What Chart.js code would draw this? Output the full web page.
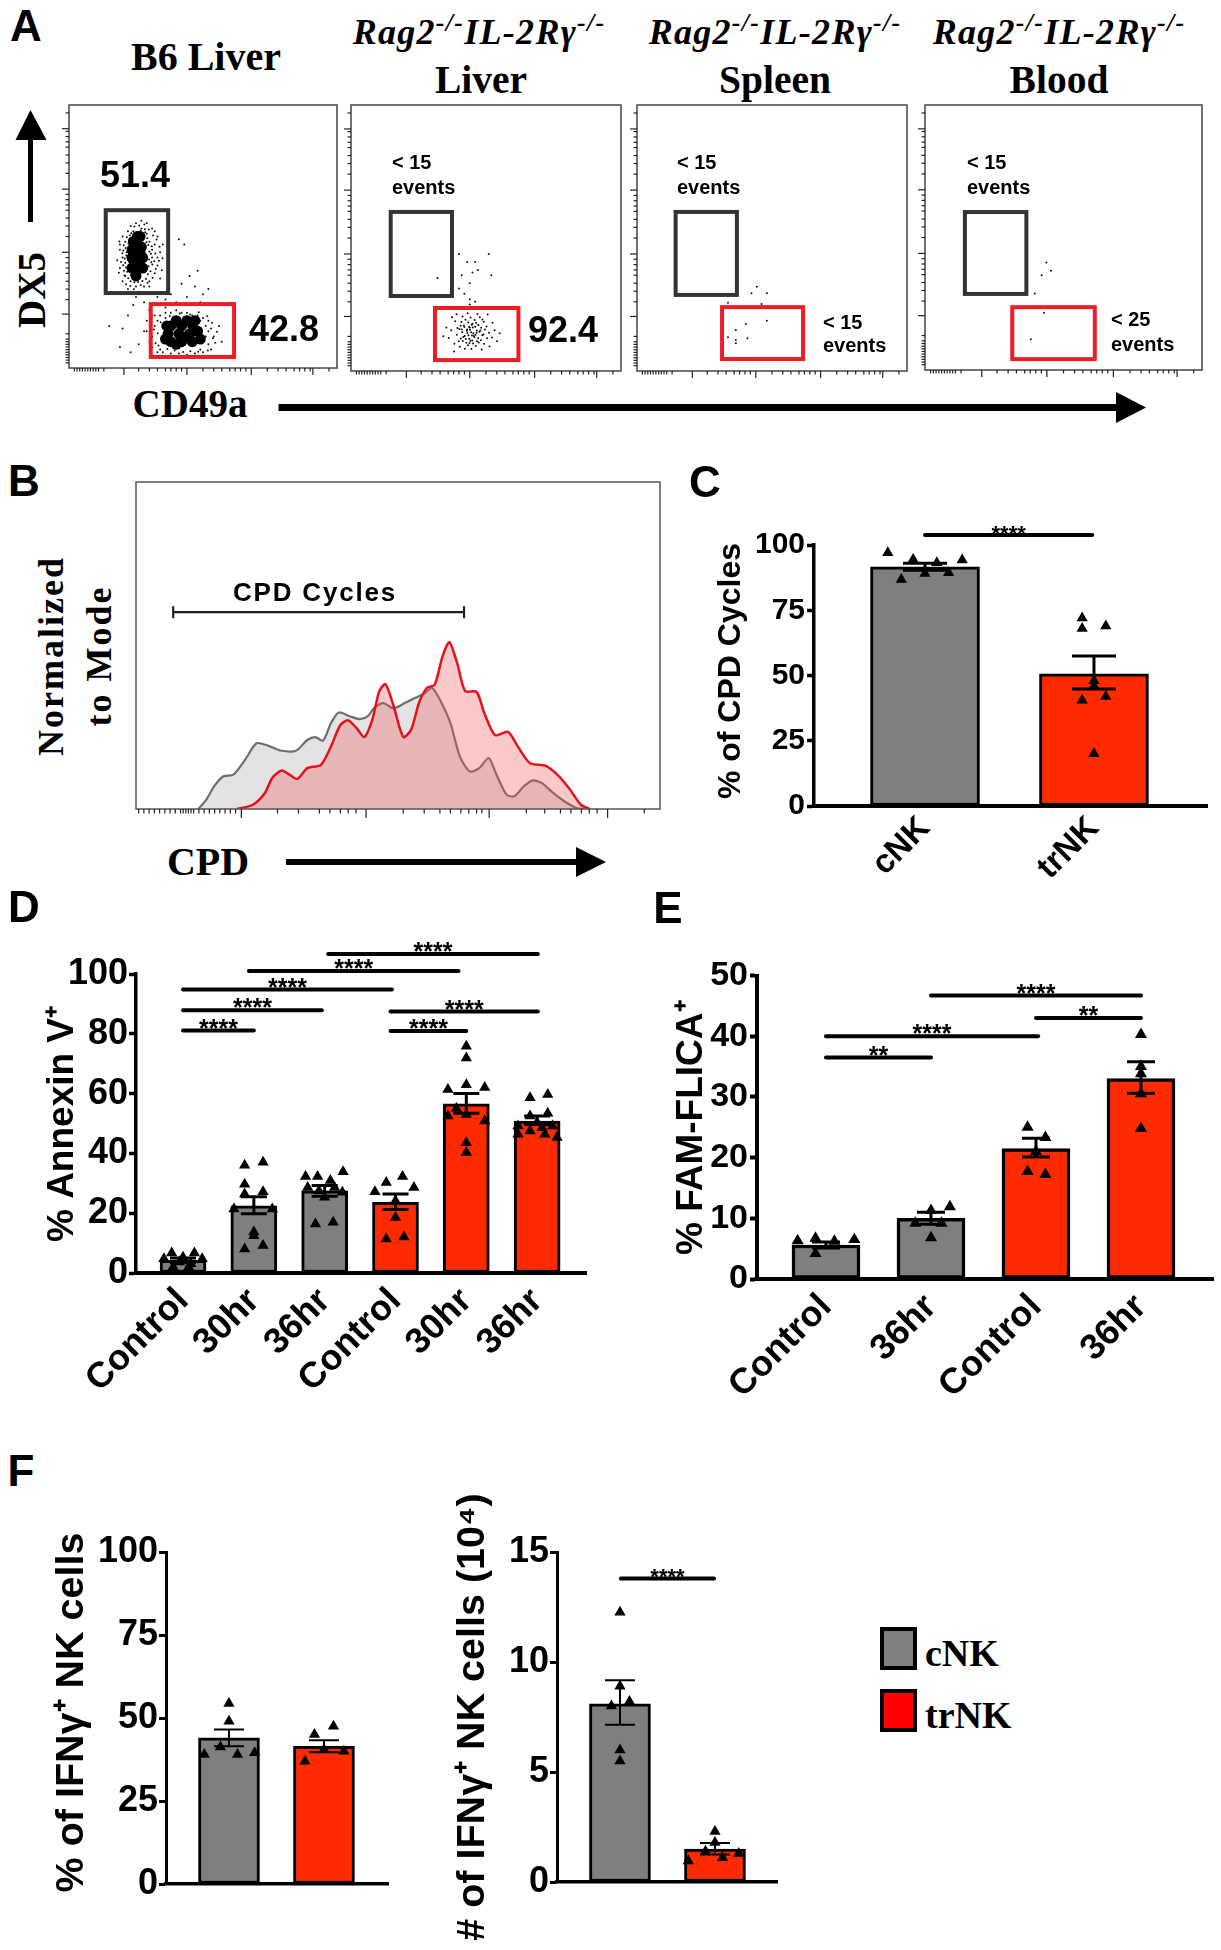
<!DOCTYPE html>
<html><head><meta charset="utf-8">
<script src="https://cdn.jsdelivr.net/npm/chart.js@4"></script>
<style>
html,body{margin:0;padding:0;background:#fff;width:1221px;height:1950px;overflow:hidden}
canvas{position:absolute}
.t{position:absolute;white-space:nowrap;color:#000;line-height:1;transform:translate(-50%,-50%)}
.s{font-family:"Liberation Serif",serif;font-weight:bold}
.a{font-family:"Liberation Sans",sans-serif;font-weight:bold}
sup{font-size:72%;line-height:0;vertical-align:baseline;position:relative;top:-.5em}
svg{position:absolute;left:0;top:0}
</style></head><body>
<svg width="1221" height="1950">
<polygon points="28,222 33,222 33,140 46.500,140 30.500,110 15.500,140 28,140"/>
<polygon points="278.500,404 1116,404 1116,392 1146,407.500 1116,423 1116,411 278.500,411"/>
<polygon points="286,859 576,859 576,847 606,862 576,877 576,865 286,865"/>
</svg>
<script>
const GREY='#7f7f7f', RED='#ff2b00';

// Panel A: flow cytometry dots, x and y in percent of each plot
const b6Core=[[25,35],[24,38],[26,38],[24,41],[26.5,41],[24,44],[26.5,44],[25,47],[25.5,50],[27,46],[23.5,42],[23.5,38],[27.5,42],[27.5,38],[23.5,45],[24,48],[26.5,50],
[38,10],[42,10],[46,10],[37,13],[41,13],[45,13],[48,14],[38,16],[42,16],[46,16.5],[40,9],[44,12],[36,11],[49,11],[36.5,16],[40,18],[44,18],[47,18]];
const b6Dots=[[19,38],[20,42],[19,45],[21,35],[21,48],[20,50],[22,52],[23,54],[25,55],[27,53],[29,55],[31,53],[33,50],[32,47],[34,44],[31,42],[33,39],[32,36],[34,34],[30,33],[28,31],[25,31],[23,33],[20,33],[18,41],[19,47],[22,30],[26,29],[30,31],[31,45],[30,48],[29,51],[24,52],[21,40],[21.5,44],[20.5,37],[33,42],[35,47],[32,52],[27,56],
[18.6,36.2],[19.4,40.3],[19.9,43.6],[18.8,48.1],[20.4,46.7],[20.7,35.2],[21.3,31.8],[22.9,31.2],[24.2,29.9],[26.8,31.6],[29.3,32.4],[31.2,34.3],[32.4,37.6],[31.1,39.4],[33.6,40.8],[32.2,43.5],[30.9,46.3],[32.7,48.9],[31.4,50.4],[29.8,52.7],[28.1,54.6],[26.2,54.2],[24.4,53.8],[22.7,50.4],[21.6,49.7],[34.6,37.2],[34.9,41.7],[33.8,46.1],[30.4,36.8],[30.7,40.2],
[20.2,39.1],[20.8,41.6],[21.2,38.2],[21.4,42.8],[21.1,45.6],[20.3,44.7],[21.7,36.6],[22.1,34.1],[22.3,40.7],[22.2,47.3],[22.6,49.1],[23.2,51.2],[24.8,51.4],[26.7,52.2],[28.4,51.6],[29.2,49.3],[29.6,46.8],[30,44.2],[29.9,41.3],[29.7,38.7],[29.4,35.6],[28.7,33.8],[27.4,33.1],[25.8,32.7],[24.4,32.6],[23.1,35.4],[30.6,43.4],[31.8,40.6],[28.9,47.8],[28.3,52.8],
[41,49],[43,47],[45,35],[48,37],[42,32],[47,31],[50,28],[38,28],[36,26],[40,25],[44,27],[46,24],[25,27],[28,25],[24,24],[33,27],[30,22],[36,23],[43,24],[49,25],[52,30],[22,20],[20,15],[15,16],[19,8],[23,6],[26,9],[28,14],[29,18],[31,20],
[31,8],[31,12],[32,16],[32,20],[33,6],[34,20],[36,21],[38,21],[40,22],[42,21],[44,21],[46,20],[48,20],[50,19],[52,18],[53,15],[54,12],[52,9],[53,7],[50,6],[47,5.5],[44,5],[41,5.5],[38,5.5],[35,6],[30,10],[29,14],[51,12],[52,14],[51,16],[49,7],[33,18],[36,19],[39,19.5],[43,19.5],[47,19],[49,18],[34,7],[57,10],[56,16],
[32.3,9.4],[33.1,13.2],[31.7,14.6],[34.2,17.4],[37.6,19.8],[41.3,20.7],[45.2,20.3],[48.4,21.2],[51.6,19.7],[53.4,17.2],[54.6,9.6],[53.7,11.3],[55.2,13.8],[51.8,6.7],[48.2,6.2],[45.3,6.4],[42.6,6.1],[39.4,6.7],[36.7,7.2],[33.4,8.6]];
const liverDots=[[36.2,12.4],[37.1,15.3],[38.3,10.2],[38.6,18.7],[39.2,13.6],[39.4,16.2],[39.1,21.3],[40.3,9.1],[40.7,12.2],[40.1,15.8],[40.9,18.4],[41.4,11.3],[41.2,14.6],[41.8,17.1],[41.3,20.5],[42.2,8.4],[42.7,10.6],[42.1,13.2],[42.9,15.1],[42.4,19.3],[42.6,23.4],[43.3,9.7],[43.8,12.1],[43.1,14.3],[43.7,16.6],[43.4,18.2],[43.2,21.7],[44.6,8.3],[44.2,11.4],[44.8,13.3],[44.1,15.5],[44.7,17.4],[44.3,20.1],[45.2,10.3],[45.7,12.8],[45.3,14.2],[45.1,16.4],[45.8,19.2],[45.4,23.3],[46.2,9.4],[46.7,11.2],[46.1,13.6],[46.6,15.2],[46.3,18.1],[46.8,21.4],[47.3,10.7],[47.1,12.3],[47.6,14.8],[47.2,17.3],[47.7,20.2],[48.4,8.1],[48.1,11.6],[48.6,13.4],[48.2,16.3],[48.7,19.4],[49.3,10.2],[49.1,13.7],[49.6,15.6],[49.2,18.5],[50.4,12.3],[50.2,16.7],[50.6,21.2],[51.3,9.2],[51.1,14.4],[52.2,12.6],[52.4,18.1],[53.2,15.3],[54.1,11.2],[35.3,16.4],[34.2,13.1],[37.4,20.2],[38.2,7.3],[55.1,14.2],
[42.5,12],[43.5,13.4],[44.5,14.6],[45.5,13.2],[46.5,14.4],[43,15.6],[44,16.4],[45,17.8],[46,16.6],[42,16.5],[41,15.6],[41.6,12.8],[44.9,11.5],[43.9,10.4],[47.9,15.2],[40.6,17],[39.9,11.2],
[40,44],[43,41],[46,41],[51,44],[45,37],[47,38],[52,36],[41,36],[44,33],[40,31],[32,35],[42,29],[44,27],[46,26],[44,25],[47,24],[50,24]];
const spleenDots=[[33.7,25.7],[46.1,25.2],[42.4,29.2],[48.1,29.2],[44.4,31.7],[48.1,18.9],[40.3,17.7],[36.6,15.4],[36.6,11.7],[40.9,12.3],[33.7,12.7],[36.6,10.4]];
const bloodDots=[[43.8,40.6],[45.5,37.5],[42.1,35.8],[39.6,28.9],[43,21.6],[38.2,11.6]];
const flowMajorTicks=[20.5,44,68,91];
const flowMinorTicks=[2,3,4,5,6,7,8,9,10,11,13,26,30,33,36,38,40,42,50,54,57,60,62,64,66,74,78,81,84,86,88,90,97];

// Panel B: CPD histograms, x and y in percent of the plot
const cpdGrey=[[11.9,0],[13.4,2.8],[14.9,6.9],[16.7,10],[18.6,10.5],[20.8,15],[23,20.1],[25.3,19.3],[27.5,17.9],[30.5,17.8],[32.7,21.1],[34.2,22],[35.7,20.9],[37.2,26.2],[38.7,29.5],[40.9,28.3],[42.7,27.5],[44.2,28.3],[45.4,30.8],[47.2,32.4],[49.1,30.8],[51.3,32.4],[53.6,34.2],[55.1,35.4],[56.5,37],[58,33.4],[60,26.3],[61.8,16.1],[63.7,11.5],[65.5,12.5],[67.3,15.6],[68.8,10.5],[70.7,4.4],[72.2,3.9],[74,6.9],[75.6,8.7],[77.4,8],[79.6,4.9],[81.8,2.3],[84.1,.3],[85.6,0]];
const cpdRed=[[19.3,0],[22.3,1.3],[24.6,4.9],[26,9.5],[27.8,11.8],[29.3,10.5],[30.8,9.2],[32.7,12.5],[35.3,13.5],[37.2,19.1],[39,25.7],[40.5,27.1],[42.1,24.7],[43.6,22],[45.1,27.3],[46.4,35.9],[47.6,38.2],[49.1,31.8],[51,22],[52.5,24.2],[54,32.4],[55.5,37],[57,38],[58.5,46.7],[59.8,51],[61.3,44.5],[62.8,36.1],[65,35.8],[66.5,29.2],[68.5,22.6],[71,23.6],[72.9,19],[75.2,14],[78.2,13.2],[80.4,10.5],[82.6,6.4],[84.9,1.3],[86.6,0]];
const cpdMajorTicks=[20.1,43.9,67.4,90];
const cpdMinorTicks=[0.5,1.5,2.5,3.5,4.5,5.5,6.5,7.5,8.5,9,9.5,10,10.5,11,12,13,14,15,16,17,18,19,27,31,35,37,39,40.5,42,51,55,58,60,62,63.5,65,66,74.5,78,81,83,85,86.5,88,97];

// Panel C
const cCategories=['cNK','trNK'];
const cMeans=[91.6,50.6];
const cUpper=[93,57.5];
const cLower=[90.3,44.8];
const cPoints=[{x:-.22,y:97},{x:-.07,y:94.4},{x:.07,y:93.2},{x:.22,y:94.3},{x:-.14,y:86.8},{x:0,y:89.1},{x:.14,y:89.4},
{x:.93,y:72},{x:1.07,y:69},{x:.93,y:68},{x:1,y:48},{x:1,y:46},{x:.93,y:40.5},{x:1.07,y:42},{x:1,y:20}];

// Panel D
const dCategories=['Control','30hr','36hr','Control','30hr','36hr'];
const dMeans=[4.2,22.5,27.5,23.6,56.6,50.8];
const dUpper=[5,25.5,29.3,26.4,60,52.5];
const dLower=[3.5,19.8,25.7,21.2,53.4,49.7];
const dColors=[GREY,GREY,GREY,RED,RED,RED];
const dPoints=[{x:-.27,y:4.8},{x:-.16,y:6.7},{x:0,y:5.3},{x:.16,y:6.7},{x:.27,y:4.8},{x:-.14,y:2},{x:.08,y:2},{x:-.05,y:3.7},{x:.11,y:3.1},
{x:.87,y:36},{x:1.13,y:37},{x:.87,y:29.7},{x:.87,y:26.4},{x:1.13,y:27.2},{x:.72,y:21.4},{x:1.26,y:21.4},{x:1,y:13.7},{x:1,y:12.5},{x:.87,y:8},{x:1.13,y:9.2},
{x:1.73,y:32.3},{x:1.9,y:32.3},{x:2.26,y:33.9},{x:2.08,y:30.9},{x:1.76,y:28.6},{x:1.92,y:27.5},{x:2.14,y:28.6},{x:2.25,y:27},{x:1.87,y:16.4},{x:2.12,y:17},{x:2,y:25.3},
{x:3.1,y:32.3},{x:2.87,y:30.3},{x:3.26,y:28.6},{x:2.71,y:27.2},{x:3,y:24.2},{x:3,y:18.6},{x:2.87,y:11.4},{x:3.12,y:12},
{x:4,y:75.8},{x:4,y:71.9},{x:4,y:63},{x:3.74,y:61.4},{x:4.26,y:62},{x:3.74,y:52.5},{x:4,y:53},{x:4.26,y:50.8},{x:4,y:43.6},{x:4,y:40.3},{x:3.86,y:55},
{x:4.9,y:58.6},{x:5.15,y:59.7},{x:4.9,y:52.5},{x:5.15,y:53.4},{x:4.73,y:49.2},{x:4.9,y:47.5},{x:5.07,y:48.6},{x:5.22,y:49.2},{x:5.28,y:45.3},{x:4.73,y:46.4},{x:5,y:50.3},{x:5.11,y:46.4}];
const dBrackets=[[0,1,81.1,'****'],[0,1.96,87.9,'****'],[0,2.95,94.8,'****'],[.93,3.89,101,'****'],[2.05,5.01,106.7,'****'],[2.93,4,80.9,'****'],[2.93,5.01,87.5,'****']];

// Panel E
const eCategories=['Control','36hr','Control','36hr'];
const eMeans=[5.6,10,21.5,33];
const eUpper=[6.1,11,23.2,35.8];
const eLower=[5.1,9,20.1,30.6];
const eColors=[GREY,GREY,RED,RED];
const ePoints=[{x:-.27,y:6.3},{x:-.1,y:6.7},{x:.08,y:6.2},{x:.27,y:6.5},{x:-.1,y:4.2},
{x:1,y:11.3},{x:1.18,y:11.9},{x:.85,y:9.2},{x:1,y:6.8},{x:1.1,y:9.2},
{x:1.92,y:25},{x:2.09,y:23.3},{x:1.92,y:17.7},{x:2.09,y:17.2},{x:2,y:21},
{x:3,y:40.3},{x:3,y:35},{x:3,y:33.8},{x:3,y:30.5},{x:3,y:24.8}];
const eBrackets=[[0,1,36.5,'**'],[0,2.02,40,'****'],[1,3,46.7,'****'],[2,3,43,'**']];

// Panel F
const fPctCategories=['cNK','trNK'];
const fPctMeans=[44,41.5];
const fPctUpper=[46.5,43.3];
const fPctLower=[41.5,39.7];
const fPctPoints=[{x:0,y:54.4},{x:0,y:49},{x:-.09,y:41.3},{x:.09,y:39},{x:-.26,y:39},{x:.27,y:39.5},
{x:.9,y:45},{x:1.1,y:47.5},{x:.8,y:37},{x:1,y:40.5},{x:1.21,y:40}];
const fNumCategories=['cNK','trNK'];
const fNumMeans=[8.1,1.5];
const fNumUpper=[9.17,1.77];
const fNumLower=[7.15,1.25];
const fNumPoints=[{x:0,y:12.26},{x:0,y:8.9},{x:.1,y:8.2},{x:-.09,y:8},{x:0,y:6},{x:0,y:5.5},
{x:1,y:2.3},{x:1,y:1.8},{x:.9,y:1.4},{x:1.08,y:1.1},{x:.72,y:.95},{x:1.25,y:1.3}];
const fNumBrackets=[[.01,.99,13.8,'****']];
const cBrackets=[[0,.99,103.8,'****']];

function toXY(a){return a.map(p=>({x:p[0],y:p[1]}));}
function put(html,x,y,cls,size,extra){
  const d=document.createElement('div');d.className='t '+cls;d.innerHTML=html;
  d.style.left=x+'px';d.style.top=y+'px';d.style.fontSize=size+'px';
  if(extra)d.style.cssText+=extra;document.body.appendChild(d);return d;
}
function addCanvas(L,T,W,H){
  const c=document.createElement('canvas');c.width=W;c.height=H;
  c.style.left=L+'px';c.style.top=T+'px';c.style.width=W+'px';c.style.height=H+'px';
  document.body.appendChild(c);return c;
}
function drawTicks(ctx,chart,major,minor,xOn,yOn,majLen,minLen){
  const {left,bottom}=chart.chartArea,X=chart.scales.x,Y=chart.scales.y;
  ctx.strokeStyle='#222';ctx.lineWidth=1.2;
  const line=(a,b,c,d)=>{ctx.beginPath();ctx.moveTo(a,b);ctx.lineTo(c,d);ctx.stroke();};
  const run=(vals,len)=>vals.forEach(v=>{
    if(xOn){const p=X.getPixelForValue(v);line(p,bottom,p,bottom+len);}
    if(yOn){const p=Y.getPixelForValue(v);line(left,p,left-len,p);}
  });
  run(major,majLen);run(minor,minLen);
}

// Panel A plots
function flowPlot(o){
  const pad=12;
  const c=addCanvas(o.x0-pad,o.y0-2,o.x1-o.x0+pad+2,o.y1-o.y0+pad+2);
  const ds=[{data:toXY(o.dots),pointRadius:1,pointBackgroundColor:'#111',pointBorderWidth:0}];
  if(o.core)ds.push({data:toXY(o.core),pointRadius:5.5,pointBackgroundColor:'#000',pointBorderWidth:0});
  new Chart(c,{type:'scatter',data:{datasets:ds},
   options:{responsive:false,animation:false,
    layout:{autoPadding:false,padding:{left:pad,top:2,right:2,bottom:pad}},
    plugins:{legend:{display:false},tooltip:{enabled:false}},
    scales:{x:{display:false,min:0,max:100},y:{display:false,min:0,max:100}}},
   plugins:[{id:'flowMarks',afterDraw(ch){
     const g=ch.ctx,{left,right,top,bottom}=ch.chartArea,X=ch.scales.x,Y=ch.scales.y;
     g.save();
     g.strokeStyle='#444';g.lineWidth=1.5;g.strokeRect(left,top,right-left,bottom-top);
     const gate=(r,col)=>{g.strokeStyle=col;g.lineWidth=4;
       g.strokeRect(X.getPixelForValue(r[0]),Y.getPixelForValue(r[3]),X.getPixelForValue(r[1])-X.getPixelForValue(r[0]),Y.getPixelForValue(r[2])-Y.getPixelForValue(r[3]));};
     gate(o.blackGate,'#333');gate(o.redGate,'#ee1c25');
     drawTicks(g,ch,flowMajorTicks,flowMinorTicks,true,true,7,3.5);
     g.restore();
   }}]});
}
flowPlot({x0:68.500,x1:336.500,y0:105,y1:368,dots:b6Dots,core:b6Core,blackGate:[13.7,37,28.5,60],redGate:[30.5,61.6,4.2,24.3]});
flowPlot({x0:350.500,x1:620.500,y0:105,y1:371,dots:liverDots,blackGate:[14.7,37.4,28.2,59.8],redGate:[31.1,62,4.1,23.7]});
flowPlot({x0:637,x1:907,y0:105,y1:371,dots:spleenDots,blackGate:[14.3,37,28.6,59.8],redGate:[31.5,61.5,4.5,24]});
flowPlot({x0:925,x1:1202,y0:105,y1:370,dots:bloodDots,blackGate:[14.4,36.6,28.7,59.6],redGate:[31.5,61.3,4.1,23.7]});

// Panel B histogram
(function(){
  const pad=12,x0=136,x1=660,y0=482,y1=809;
  const c=addCanvas(x0-pad,y0-2,x1-x0+pad+2,y1-y0+pad+2);
  new Chart(c,{type:'scatter',data:{datasets:[
    {data:toXY(cpdRed),showLine:true,tension:.25,fill:'origin',borderColor:'#e8101c',borderWidth:2.5,backgroundColor:'rgba(238,90,90,.32)',pointRadius:0},
    {data:toXY(cpdGrey),showLine:true,tension:.25,fill:'origin',borderColor:'#6e6e6e',borderWidth:2.2,backgroundColor:'rgba(170,170,170,.33)',pointRadius:0}
   ]},
   options:{responsive:false,animation:false,
    layout:{autoPadding:false,padding:{left:pad,top:2,right:2,bottom:pad}},
    plugins:{legend:{display:false},tooltip:{enabled:false}},
    scales:{x:{display:false,min:0,max:100},y:{display:false,min:0,max:100}}},
   plugins:[{id:'histMarks',afterDraw(ch){
     const g=ch.ctx,{left,right,top,bottom}=ch.chartArea,X=ch.scales.x,Y=ch.scales.y;
     g.save();g.strokeStyle='#555';g.lineWidth=1.5;g.strokeRect(left,top,right-left,bottom-top);
     drawTicks(g,ch,cpdMajorTicks,cpdMinorTicks,true,false,9,4.5);
     const a=X.getPixelForValue(7.1),b=X.getPixelForValue(62.6),m=Y.getPixelForValue(60.2);
     g.strokeStyle='#222';g.lineWidth=2.2;
     g.beginPath();g.moveTo(a,m);g.lineTo(b,m);g.moveTo(a,m-6);g.lineTo(a,m+6);g.moveTo(b,m-6);g.lineTo(b,m+6);g.stroke();
     g.restore();
   }}]});
})();

// Bar panels
function barPanel(p){
  const W=p.R-p.L,H=p.B-p.T,lh=p.titleSize*1.2;
  const c=addCanvas(p.L,p.T,W,H);
  const bars=p.means.map((v,i)=>({x:i,y:v}));
  new Chart(c,{data:{datasets:[
     {type:'bar',order:2,data:bars,backgroundColor:p.colors,borderColor:'#000',borderWidth:p.barBorder,barThickness:p.barW,borderSkipped:false},
     {type:'scatter',order:1,data:p.points,pointStyle:'triangle',pointRadius:p.tri,pointBackgroundColor:'#000',pointBorderWidth:0,clip:false}
   ]},
   options:{responsive:false,animation:false,
    layout:{autoPadding:false,padding:{top:p.top-p.T,right:p.R-p.right,left:0,bottom:0}},
    plugins:{legend:{display:false},tooltip:{enabled:false}},
    scales:{
     x:{type:'linear',offset:false,min:p.xMin,max:p.xMax,
        afterBuildTicks:s=>{s.ticks=p.cats.map((_,i)=>({value:i}));},
        afterFit:s=>{s.height=p.B-p.bottom;s.paddingLeft=0;s.paddingRight=0;},
        ticks:{display:p.showCats!==false,callback:v=>p.cats[v],minRotation:45,maxRotation:45,autoSkip:false,padding:p.catPad||3,color:'#000',
               font:{family:'"Liberation Sans"',weight:'bold',size:p.catSize}},
        grid:{offset:false,drawOnChartArea:false,drawTicks:false},
        border:{color:'#000',width:p.baseW}},
     y:{min:0,max:p.yMax,
        afterFit:s=>{s.width=p.axisX-p.L;},
        ticks:{stepSize:p.step,padding:p.tickPad||2,color:'#000',font:{family:'"Liberation Sans"',weight:'bold',size:p.tickSize}},
        grid:{drawOnChartArea:false,tickLength:7,tickWidth:p.axisW,tickColor:'#000'},
        border:{color:'#000',width:p.axisW},
        title:{display:true,text:p.title,color:'#000',padding:{top:p.titleX-p.L-lh/2,bottom:0},
               font:{family:'"Liberation Sans"',weight:'bold',size:p.titleSize}}}
    }},
   plugins:[{id:'errAndBrackets',
    afterDatasetDraw(ch,args){
      if(args.index!==0)return;
      const g=ch.ctx,X=ch.scales.x,Y=ch.scales.y;g.save();g.strokeStyle='#000';g.lineWidth=p.errW;
      p.means.forEach((_,i)=>{
        const x=X.getPixelForValue(i),u=Y.getPixelForValue(p.upper[i]),l=Y.getPixelForValue(p.lower[i]);
        g.beginPath();g.moveTo(x,u);g.lineTo(x,l);g.moveTo(x-p.cap,u);g.lineTo(x+p.cap,u);g.moveTo(x-p.cap,l);g.lineTo(x+p.cap,l);g.stroke();
      });g.restore();
    },
    afterDraw(ch){
      const g=ch.ctx,X=ch.scales.x,Y=ch.scales.y;g.save();
      (p.brackets||[]).forEach(b=>{
        const a=X.getPixelForValue(b[0]),e=X.getPixelForValue(b[1]),y=Y.getPixelForValue(b[2]);
        g.strokeStyle='#000';g.lineWidth=4;g.lineCap='round';g.beginPath();g.moveTo(a,y);g.lineTo(e,y);g.stroke();
        g.fillStyle='#000';g.font='bold '+p.starSize+'px "Liberation Sans"';g.textAlign='center';g.textBaseline='alphabetic';
        g.fillText(b[3],(a+e)/2,y+p.starSize*.25);
      });g.restore();
    }}]});
}
barPanel({L:690,T:500,R:1221,B:905,axisX:814,top:545,bottom:806,right:1207,xMin:-.657,xMax:1.669,cats:cCategories,means:cMeans,upper:cUpper,lower:cLower,points:cPoints,colors:[GREY,RED],yMax:100,step:25,barW:109,barBorder:3,baseW:4,axisW:3.5,errW:3,cap:22,tri:6.5,tickSize:30,catSize:33,title:'\u00a0% of CPD Cycles',titleSize:32,titleX:731,brackets:cBrackets,starSize:22});
barPanel({L:30,T:930,R:610,B:1440,axisX:136,top:974,bottom:1273,right:586,xMin:-.664,xMax:5.69,cats:dCategories,means:dMeans,upper:dUpper,lower:dLower,points:dPoints,colors:dColors,yMax:100,step:20,barW:46,barBorder:3,baseW:4,axisW:3.5,errW:3,cap:13,tri:6.5,tickSize:36,tickPad:1,catSize:36,catPad:7,title:'% Annexin V⁺',titleSize:37,titleX:63,brackets:dBrackets,starSize:25});
barPanel({L:650,T:930,R:1221,B:1450,axisX:757,top:975.5,bottom:1279,right:1213,xMin:-.657,xMax:3.686,cats:eCategories,means:eMeans,upper:eUpper,lower:eLower,points:ePoints,colors:eColors,yMax:50,step:10,barW:68,barBorder:3.5,baseW:4,axisW:4,errW:3,cap:14,tri:7,tickSize:34,catSize:36,catPad:7,title:'% FAM-FLICA⁺',titleSize:37,titleX:692,brackets:eBrackets,starSize:25});
barPanel({L:20,T:1500,R:410,B:1950,axisX:166,top:1552,bottom:1884,right:388,xMin:-.663,xMax:1.674,cats:fPctCategories,showCats:false,means:fPctMeans,upper:fPctUpper,lower:fPctLower,points:fPctPoints,colors:[GREY,RED],yMax:100,step:25,barW:61,barBorder:3,baseW:3.5,axisW:3,errW:2,cap:15,tri:6.5,tickSize:36,tickPad:1,catSize:30,title:'\u00a0% of IFNγ⁺ NK cells',titleSize:39.5,titleX:72,starSize:22});
barPanel({L:430,T:1470,R:800,B:1950,axisX:557,top:1552,bottom:1882,right:777,xMin:-.663,xMax:1.653,cats:fNumCategories,showCats:false,means:fNumMeans,upper:fNumUpper,lower:fNumLower,points:fNumPoints,colors:[GREY,RED],yMax:15,step:5,barW:61,barBorder:3,baseW:3.5,axisW:3,errW:2,cap:15,tri:6.5,tickSize:36,tickPad:1,catSize:30,title:'# of IFNγ⁺ NK cells (10⁴)',titleSize:39.5,titleX:473,brackets:fNumBrackets,starSize:22});

// Panel letters
[['A',26,26],['B',24,481],['C',705,482],['D',24,907],['E',668,908],['F',21,1471]].forEach(l=>put(l[0],l[1],l[2],'a',44));

// Panel A headings
const ragLine='Rag2<sup>-/-</sup>IL-2Rγ<sup>-/-</sup>';
[479,775,1059].forEach(x=>put(ragLine,x,32,'s',36,'font-style:italic;letter-spacing:1.3px'));
put('B6 Liver',206,57,'s',40);
put('Liver',481,81,'s',39.5);put('Spleen',775,81,'s',39.5);put('Blood',1059,81,'s',39.5);
put('51.4',135,175,'a',36);put('42.8',284,329,'a',36);put('92.4',563,330,'a',36);
[[392,162,'&lt; 15'],[392,187,'events'],[677,162,'&lt; 15'],[677,187,'events'],[967,162,'&lt; 15'],[967,187,'events'],
 [823,322,'&lt; 15'],[823,345,'events'],[1111,319,'&lt; 25'],[1111,344,'events']].forEach(e=>put(e[2],e[0],e[1],'a',20,'transform:translateY(-50%)'));
put('DX5',30.5,290,'s',39,'transform:translate(-50%,-50%) rotate(-90deg)');
put('CD49a',190,403,'s',39);

// Panel B text
put('Normalized',51,656,'s',36,'transform:translate(-50%,-50%) rotate(-90deg);letter-spacing:2px');
put('to Mode',99,656,'s',36,'transform:translate(-50%,-50%) rotate(-90deg);letter-spacing:2px');
put('CPD Cycles',315,592,'a',26,'letter-spacing:1.8px');
put('CPD',208,862,'s',40);

// Legend
[[880,1627,GREY,'cNK',1653],[880,1689,'#ff0000','trNK',1715]].forEach(k=>{
  const b=document.createElement('div');
  b.style.cssText='position:absolute;box-sizing:border-box;left:'+k[0]+'px;top:'+k[1]+'px;width:37px;height:43px;border:4px solid #000;background:'+k[2];
  document.body.appendChild(b);
  const t=put(k[3],925,k[4],'s',38);t.style.transform='translateY(-50%)';
});
</script>
</body></html>
